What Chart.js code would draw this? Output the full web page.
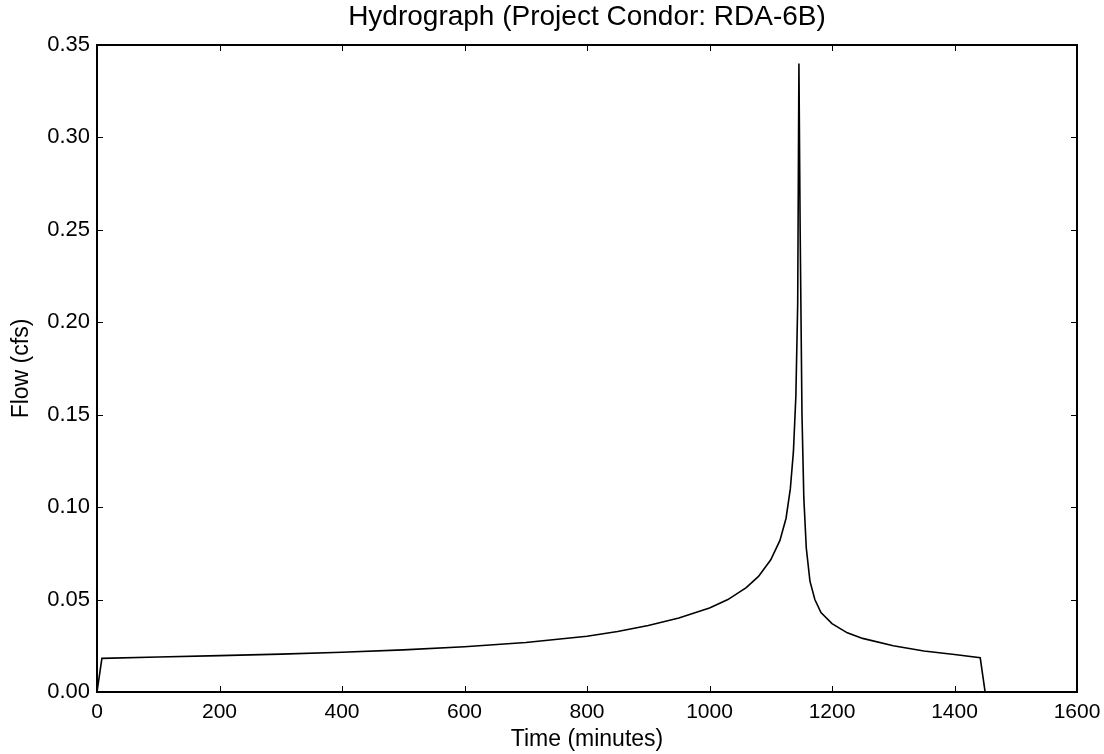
<!DOCTYPE html>
<html>
<head>
<meta charset="utf-8">
<title>Hydrograph (Project Condor: RDA-6B)</title>
<script src="https://cdn.jsdelivr.net/npm/chart.js@4.4.1/dist/chart.umd.min.js"></script>
<style>
  html, body { margin: 0; padding: 0; background: #ffffff; }
  #wrap { width: 1104px; height: 754px; }
</style>
</head>
<body>
<div id="wrap"><canvas id="hydro" width="1104" height="754"></canvas></div>
<script>
// Runoff hydrograph, time in minutes and flow in cfs
const timeMinutes = [
  0, 8, 100, 200, 300, 400, 500, 600, 700, 800, 850, 900, 950, 1000,
  1030, 1060, 1080, 1100, 1115, 1125, 1132, 1137, 1141, 1144, 1146,
  1148, 1151, 1154, 1158, 1164, 1172, 1182, 1200, 1225, 1250, 1300,
  1350, 1400, 1442, 1450
];
const flowCfs = [
  0, 0.0182, 0.0189, 0.0197, 0.0205, 0.0215, 0.0228, 0.0245, 0.0268, 0.0302, 0.0327, 0.0360, 0.0400, 0.0455,
  0.0500, 0.0565, 0.0625, 0.0715, 0.0820, 0.0940, 0.110, 0.130, 0.160, 0.210, 0.340,
  0.250, 0.150, 0.105, 0.078, 0.060, 0.050, 0.043, 0.037, 0.032, 0.029, 0.025,
  0.0222, 0.0203, 0.0185, 0
];
const xTickValues = [0, 200, 400, 600, 800, 1000, 1200, 1400, 1600];
const yTickValues = [0, 0.05, 0.10, 0.15, 0.20, 0.25, 0.30, 0.35];
const chartTitle = 'Hydrograph (Project Condor: RDA-6B)';

const FONT = "'Liberation Sans', Arial, Helvetica, sans-serif";

// Frame around the plot, inward tick marks on all four sides,
// and the title centred over the plotting area
const frameTicks = {
  id: 'frameTicks',
  afterDatasetsDraw(chart) {
    const { ctx, chartArea: a, scales: { x, y } } = chart;
    const len = 6;
    ctx.save();
    ctx.strokeStyle = '#000';
    ctx.lineWidth = 1;
    ctx.beginPath();
    xTickValues.forEach(v => {
      const px = Math.round(x.getPixelForValue(v)) + 0.5;
      ctx.moveTo(px, a.bottom); ctx.lineTo(px, a.bottom - len);
      ctx.moveTo(px, a.top); ctx.lineTo(px, a.top + len);
    });
    yTickValues.forEach(v => {
      const py = Math.round(y.getPixelForValue(v)) + 0.5;
      ctx.moveTo(a.left, py); ctx.lineTo(a.left + len, py);
      ctx.moveTo(a.right, py); ctx.lineTo(a.right - len, py);
    });
    ctx.stroke();
    ctx.lineWidth = 2;
    ctx.strokeRect(a.left, a.top, a.right - a.left, a.bottom - a.top);

    ctx.fillStyle = '#000';
    ctx.font = '28px ' + FONT;
    ctx.textAlign = 'center';
    ctx.textBaseline = 'alphabetic';
    ctx.fillText(chartTitle, (a.left + a.right) / 2, 25);
    ctx.restore();
  }
};

new Chart(document.getElementById('hydro'), {
  type: 'line',
  data: {
    datasets: [{
      data: timeMinutes.map((t, i) => ({ x: t, y: flowCfs[i] })),
      borderColor: '#000000',
      borderWidth: 1.6,
      pointRadius: 0,
      tension: 0,
      fill: false
    }]
  },
  options: {
    responsive: false,
    animation: false,
    devicePixelRatio: 1,
    layout: { padding: { left: 0, right: 27, top: 45, bottom: 0 } },
    plugins: {
      legend: { display: false },
      tooltip: { enabled: false },
      title: { display: false }
    },
    scales: {
      x: {
        type: 'linear',
        min: 0, max: 1600,
        afterBuildTicks: s => { s.ticks = xTickValues.map(v => ({ value: v })); },
        afterFit: s => { s.height = 62; s.paddingLeft = 0; s.paddingRight = 0; },
        grid: { display: false, drawTicks: false },
        border: { display: false },
        ticks: {
          color: '#000',
          padding: 8,
          maxRotation: 0,
          font: { family: FONT, size: 21 },
          callback: v => String(v)
        },
        title: {
          display: true,
          text: 'Time (minutes)',
          color: '#000',
          font: { family: FONT, size: 23 },
          padding: { top: 0, bottom: 1 }
        }
      },
      y: {
        type: 'linear',
        min: 0, max: 0.35,
        afterBuildTicks: s => { s.ticks = yTickValues.map(v => ({ value: v })); },
        afterFit: s => { s.width = 97; s.paddingTop = 0; s.paddingBottom = 0; },
        grid: { display: false, drawTicks: false },
        border: { display: false },
        ticks: {
          color: '#000',
          padding: 7,
          font: { family: FONT, size: 22 },
          callback: v => Number(v).toFixed(2)
        },
        title: {
          display: true,
          text: 'Flow (cfs)',
          color: '#000',
          font: { family: FONT, size: 23 },
          padding: { top: 8, bottom: 0 }
        }
      }
    }
  },
  plugins: [frameTicks]
});
</script>
</body>
</html>
